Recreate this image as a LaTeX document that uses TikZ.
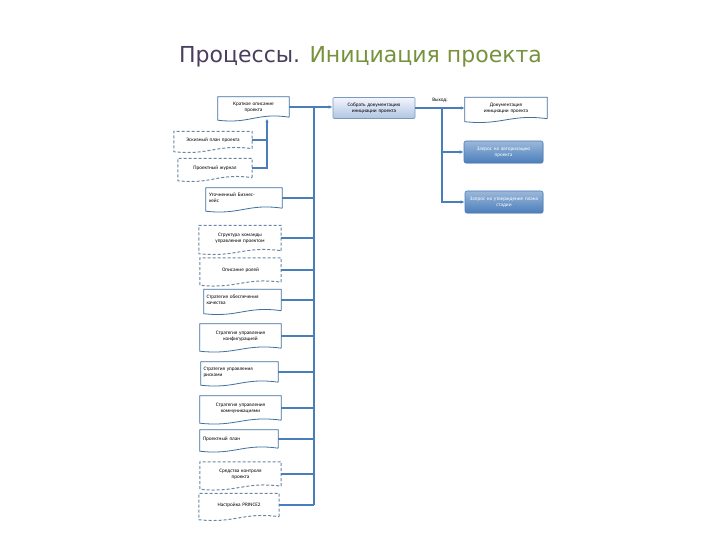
\documentclass[tikz,border=0pt]{standalone}
\usepackage{fontspec}
\setmainfont{Carlito}
\newfontfamily\titlefont{DejaVu Sans}
\usetikzlibrary{calc,arrows.meta,shadows}

\definecolor{linkblue}{HTML}{4A7EBB}
\definecolor{frameblue}{HTML}{3F6F9F}
\definecolor{dashgray}{HTML}{6A86A4}
\definecolor{titlepurple}{HTML}{4A3E5E}
\definecolor{titlegreen}{HTML}{76923C}

\tikzset{
  doc/.style={fill=white, minimum height=#1, inner sep=1pt, align=center,
    font=\fontsize{5.2}{5.8}\selectfont},
  doc/.default=20pt,
  docline/.style={draw=frameblue, line width=0.8pt},
  dashline/.style={draw=dashgray, line width=1pt, dash pattern=on 3pt off 2pt},
  procbox/.style={draw=frameblue!70, line width=0.6pt, top color=blue!4, bottom color=linkblue!45,
    rounded corners=1pt, align=center, inner sep=1pt, font=\fontsize{5.2}{5.8}\selectfont},
  outbox/.style={draw=linkblue, line width=0.6pt, top color=linkblue!55, bottom color=linkblue,
    rounded corners=2pt, align=center, inner sep=1pt, text=white,
    font=\fontsize{5.2}{5.8}\selectfont,
    drop shadow={opacity=0.3, shadow xshift=0.6pt, shadow yshift=-0.8pt}},
  link/.style={draw=linkblue, line width=1.2pt},
  arr/.style={link, -{Latex[length=4pt,width=3.5pt]}}
}

% outline with a wavy lower edge, drawn round a named node
\newcommand\docframe[2][docline]{%
  \draw[#1] (#2.south east) -- (#2.north east) -- (#2.north west) -- ([yshift=-3pt]#2.south west)
    .. controls ($(#2.south west)!0.45!(#2.south east)+(0,7)$) and ($(#2.south west)!0.55!(#2.south east)+(0,-5)$)
    .. (#2.south east);}

\begin{document}
\begin{tikzpicture}[x=1pt, y=-1pt]
    \useasboundingbox (0,0) rectangle (720,540);

    % title
    \node[font=\titlefont\fontsize{22}{25}\selectfont] (title) at (360.5,56.5)
        {\textcolor{titlepurple}{Процессы.} \textcolor{titlegreen}{Инициация проекта}};

    % inputs
    \node[doc, minimum width=71pt, text width=66pt] (brief) at (253.5,107) {Краткое описание\\проекта};
    \node[doc=17pt, minimum width=78pt, text width=74pt] (sketch) at (213,140) {Эскизный план проекта};
    \node[doc=19pt, minimum width=74pt, text width=70pt] (journal) at (215,168) {Проектный журнал};
    \docframe{brief}
    \docframe[dashline]{sketch}
    \docframe[dashline]{journal}

    \node[doc, minimum width=76pt, text width=70pt, align=left] (bizcase) at (244,198) {Уточненный Бизнес-\\кейс};
    \node[doc=25pt, minimum width=82pt, text width=78pt] (team) at (240,238) {Структура команды\\управления проектом};
    \node[doc=24pt, minimum width=81pt, text width=77pt] (roles) at (240.5,270) {Описание ролей};
    \node[doc=21pt, minimum width=77pt, text width=72pt, align=left] (quality) at (242.5,300) {Стратегия обеспечения\\качества};
    \node[doc=24pt, minimum width=81pt, text width=77pt] (config) at (240.5,336) {Стратегия управления\\конфигурацией};
    \node[doc=20pt, minimum width=77pt, text width=72pt, align=left] (risk) at (239.5,372) {Стратегия управления\\рисками};
    \node[doc=24pt, minimum width=81pt, text width=77pt] (comm) at (240.5,408) {Стратегия управления\\коммуникациями};
    \node[doc=18pt, minimum width=78pt, text width=72pt, align=left] (plan) at (239,439) {Проектный план};
    \node[doc=24pt, minimum width=81pt, text width=77pt] (control) at (240.5,474) {Средства контроля\\проекта};
    \node[doc=23pt, minimum width=80pt, text width=76pt] (tailor) at (239,505) {Настройка PRINCE2};
    \foreach \n in {bizcase,quality,config,risk,comm,plan} {\docframe{\n}}
    \foreach \n in {team,roles,control,tailor} {\docframe[dashline]{\n}}

    % process and outputs
    \node[procbox, minimum width=82pt, minimum height=21pt, text width=78pt] (prep) at (374,108)
        {Собрать документацию\\инициации проекта};
    \node[doc=21pt, minimum width=82pt, text width=78pt] (pid) at (506,108)
        {Документация\\инициации проекта};
    \docframe{pid}
    \node[outbox, minimum width=79pt, minimum height=22pt, text width=75pt] (req) at (503.5,152)
        {Запрос на авторизацию\\проекта};
    \node[outbox, minimum width=78pt, minimum height=22pt, text width=74pt] (nextplan) at (504,202)
        {Запрос на утверждение плана\\стадии};

    % connectors
    \coordinate (briefin) at (267,118.5);
    \draw[link] (sketch.east) -- (sketch.east -| briefin);
    \draw[arr] (journal.east) -- (journal.east -| briefin) -- (briefin);

    \coordinate (bustop) at (314,107);
    \draw[arr] (brief.east) -- (brief.east -| prep.west);
    \draw[link] (bustop) -- (bustop |- tailor.east);
    \foreach \n in {bizcase,team,roles,quality,config,risk,comm,plan,control,tailor}
        \draw[link] (\n.east) -- (\n.east -| bustop);

    \draw[arr] (prep.east) -- node[above, font=\fontsize{5.2}{6}\selectfont, yshift=2pt] (outlabel) {Выход:} (pid.west);
    \coordinate (fork) at (442,108);
    \draw[arr] (fork) |- (req.west);
    \draw[arr] (fork) |- (nextplan.west);
\end{tikzpicture}
\end{document}
